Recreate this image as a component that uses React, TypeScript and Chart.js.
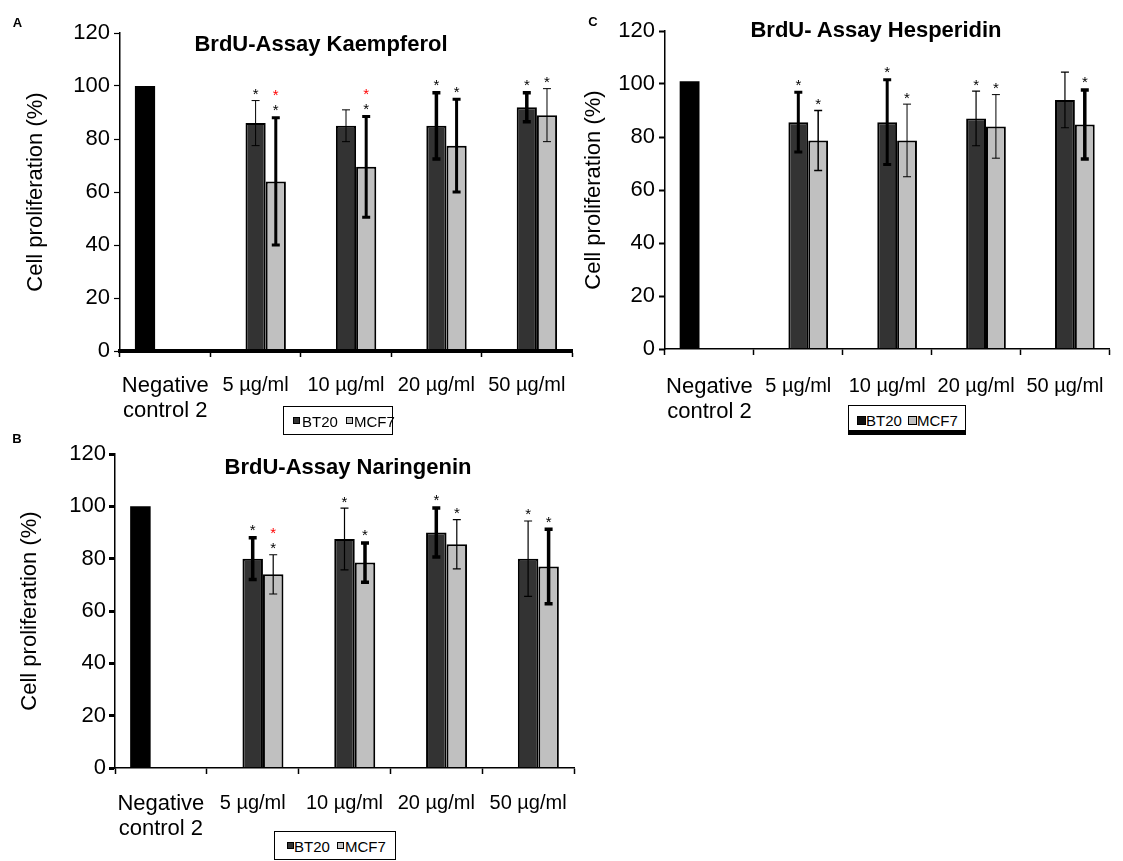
import React, { useEffect, useRef } from "react";
import { Chart, registerables } from "chart.js";

Chart.register(...registerables);

const FONT = '"Liberation Sans", Arial, Helvetica, sans-serif';
Chart.defaults.font.family = FONT;
Chart.defaults.color = "#000";

// ---------- shared ----------
const categories: (string | string[])[] = [["Negative", "control 2"], "5 µg/ml", "10 µg/ml", "20 µg/ml", "50 µg/ml"];
const yTickValues = [0, 20, 40, 60, 80, 100, 120];
const yTitle = "Cell proliferation (%)";
const seriesNames = ["Negative control", "BT20", "MCF7"];

// ---------- Panel A: Kaempferol ----------
const controlA = [100, null, null, null, null];
const bt20A = [null, 86, 85, 85, 92];
const bt20ErrA = [null, 8.5, 6, 12.5, 5.5];
const mcf7A = [null, 64, 69.5, 77.5, 89];
const mcf7ErrA = [null, 24, 19, 17.5, 10];
const bt20StarA = [false, true, false, true, true];
const mcf7StarA = [false, true, true, true, true];
const mcf7RedStarA = [false, true, true, false, false];

// ---------- Panel B: Naringenin ----------
const controlB = [100, null, null, null, null];
const bt20B = [null, 80, 87.5, 90, 80];
const bt20ErrB = [null, 8, 11.8, 9.4, 14.4];
const mcf7B = [null, 74, 78.5, 85.5, 77];
const mcf7ErrB = [null, 7.5, 7.5, 9.4, 14.2];
const bt20StarB = [false, true, true, true, true];
const mcf7StarB = [false, true, true, true, true];
const mcf7RedStarB = [false, true, false, false, false];

// ---------- Panel C: Hesperidin ----------
const controlC = [101, null, null, null, null];
const bt20C = [null, 85.6, 85.6, 87, 94];
const bt20ErrC = [null, 11.3, 16, 10.3, 10.5];
const mcf7C = [null, 78.7, 78.7, 84, 84.7];
const mcf7ErrC = [null, 11.3, 13.7, 12, 13];
const bt20StarC = [false, true, true, true, false];
const mcf7StarC = [false, true, true, true, true];
const mcf7RedStarC = [false, false, false, false, false];

// error bar stroke widths (style only)
const errWA = { bt20: [0, 1, 1, 3.5, 3.5], mcf7: [0, 3, 3, 3, 1] };
const errWB = { bt20: [0, 3.5, 1.2, 3.5, 1.2], mcf7: [0, 1.2, 3.5, 1.2, 3.5] };
const errWC = { bt20: [0, 3, 3, 1.2, 1.2], mcf7: [0, 1.5, 1, 1, 3.5] };

const errorBarPlugin = {
  id: "errorBars",
  afterDatasetsDraw(chart: any) {
    const ctx = chart.ctx;
    const y = chart.scales.y;
    chart.data.datasets.forEach((ds: any, di: number) => {
      if (!ds.errors) return;
      const meta = chart.getDatasetMeta(di);
      meta.data.forEach((bar: any, i: number) => {
        const v = ds.data[i];
        const e = ds.errors[i];
        if (v == null || e == null) return;
        const x = bar.x;
        const yTop = y.getPixelForValue(v + e);
        const yBot = y.getPixelForValue(v - e);
        const lw = (ds.errWidths && ds.errWidths[i]) || 1.2;
        ctx.save();
        ctx.strokeStyle = "#000";
        ctx.lineWidth = lw;
        ctx.beginPath();
        ctx.moveTo(x, yTop);
        ctx.lineTo(x, yBot);
        ctx.moveTo(x - 4, yTop);
        ctx.lineTo(x + 4, yTop);
        ctx.moveTo(x - 4, yBot);
        ctx.lineTo(x + 4, yBot);
        ctx.stroke();
        ctx.font = `15px ${FONT}`;
        ctx.textAlign = "center";
        ctx.textBaseline = "alphabetic";
        if (ds.stars && ds.stars[i]) {
          ctx.fillStyle = "#000";
          ctx.fillText("*", x, yTop - 1 - lw / 2);
        }
        if (ds.redStars && ds.redStars[i]) {
          ctx.fillStyle = "#ff0000";
          ctx.fillText("*", x, yTop - 16 - lw / 2);
        }
        ctx.restore();
      });
    });
  },
};

type PanelProps = {
  left: number;
  top: number;
  width: number;
  height: number;
  yAxisWidth: number;
  padRight: number;
  titlePad: number;
  yTickPad: number;
  xTickPad: number;
  xBorder: number;
  yTickWidth: number;
  control: (number | null)[];
  bt20: (number | null)[];
  bt20Err: (number | null)[];
  mcf7: (number | null)[];
  mcf7Err: (number | null)[];
  bt20Star: boolean[];
  mcf7Star: boolean[];
  mcf7RedStar: boolean[];
  errW: { bt20: number[]; mcf7: number[] };
};

function Panel(p: PanelProps) {
  const ref = useRef<HTMLCanvasElement | null>(null);
  useEffect(() => {
    if (!ref.current) return;
    const chart = new Chart(ref.current, {
      type: "bar",
      data: {
        labels: categories as any,
        datasets: [
          {
            label: seriesNames[0],
            data: p.control,
            backgroundColor: "#000000",
            borderColor: "#000000",
            borderWidth: 0,
          } as any,
          {
            label: seriesNames[1],
            data: p.bt20,
            backgroundColor: "#333333",
            borderColor: "#000000",
            borderWidth: 2,
            errors: p.bt20Err,
            stars: p.bt20Star,
            errWidths: p.errW.bt20,
          } as any,
          {
            label: seriesNames[2],
            data: p.mcf7,
            backgroundColor: "#c0c0c0",
            borderColor: "#000000",
            borderWidth: 2,
            errors: p.mcf7Err,
            stars: p.mcf7Star,
            redStars: p.mcf7RedStar,
            errWidths: p.errW.mcf7,
          } as any,
        ],
      },
      options: {
        responsive: false,
        maintainAspectRatio: false,
        animation: false,
        devicePixelRatio: 1,
        layout: { padding: { top: 20, right: p.padRight, bottom: 0, left: 0 } },
        datasets: { bar: { categoryPercentage: 0.67, barPercentage: 1 } },
        plugins: { legend: { display: false }, tooltip: { enabled: false }, title: { display: false } },
        scales: {
          x: {
            type: "category",
            grid: {
              drawOnChartArea: false,
              drawTicks: true,
              tickLength: 6,
              tickWidth: 1.5,
              tickColor: "#000",
              offset: true,
            },
            border: { display: true, color: "#000", width: p.xBorder, z: 1 },
            ticks: {
              color: "#000",
              padding: p.xTickPad,
              maxRotation: 0,
              minRotation: 0,
              autoSkip: false,
              font: (c: any) =>
                c.index === 0
                  ? { size: 22, lineHeight: "25px", family: FONT }
                  : { size: 20, lineHeight: "25px", family: FONT },
            },
            afterFit: (s: any) => {
              s.height = 75;
            },
          },
          y: {
            min: 0,
            max: 120,
            afterBuildTicks: (s: any) => {
              s.ticks = yTickValues.map((v) => ({ value: v }));
            },
            ticks: { color: "#000", padding: p.yTickPad, font: { size: 22, family: FONT } },
            grid: {
              drawOnChartArea: false,
              drawTicks: true,
              tickLength: 6,
              tickWidth: p.yTickWidth,
              tickColor: "#000",
            },
            border: { display: true, color: "#000", width: 1.5 },
            title: {
              display: true,
              text: yTitle,
              color: "#000",
              font: { size: 22, family: FONT, lineHeight: 1.2 },
              padding: { top: p.titlePad, bottom: 0 },
            },
            afterFit: (s: any) => {
              s.width = p.yAxisWidth;
            },
          },
        },
      },
      plugins: [errorBarPlugin],
    });
    return () => chart.destroy();
  }, []);
  return (
    <canvas
      ref={ref}
      width={p.width}
      height={p.height}
      style={{ position: "absolute", left: p.left, top: p.top, width: p.width, height: p.height }}
    />
  );
}

const abs = (left: number, top: number, extra: React.CSSProperties = {}): React.CSSProperties => ({
  position: "absolute",
  left,
  top,
  ...extra,
});

function Title({ x, y, text }: { x: number; y: number; text: string }) {
  return (
    <div
      style={abs(x, y, {
        transform: "translate(-50%, -50%)",
        fontWeight: "bold",
        fontSize: 22,
        lineHeight: "22px",
        whiteSpace: "nowrap",
        color: "#000",
      })}
    >
      {text}
    </div>
  );
}

function Letter({ x, y, text }: { x: number; y: number; text: string }) {
  return (
    <div
      style={abs(x, y, {
        transform: "translate(-50%, -50%)",
        fontWeight: "bold",
        fontSize: 13,
        lineHeight: "13px",
        color: "#000",
      })}
    >
      {text}
    </div>
  );
}

function Legend({
  left,
  top,
  width,
  height,
  shadow,
  m1,
  t1,
  m2,
  t2,
  msize,
  m1color,
}: {
  left: number;
  top: number;
  width: number;
  height: number;
  shadow?: boolean;
  m1: number;
  t1: number;
  m2: number;
  t2: number;
  msize: number;
  m1color: string;
}) {
  const cy = height / 2;
  return (
    <div
      style={abs(left, top, {
        width,
        height,
        border: "1px solid #000",
        borderBottom: shadow ? "5px solid #000" : "1px solid #000",
        boxSizing: "border-box",
        background: "#fff",
        fontSize: 15,
        color: "#000",
      })}
    >
      <div
        style={abs(m1, cy - msize / 2 - 1, {
          width: msize,
          height: msize,
          background: m1color,
          border: "1px solid #000",
          boxSizing: "border-box",
        })}
      />
      <div style={abs(t1, cy - 9, { lineHeight: "17px" })}>{seriesNames[1]}</div>
      <div
        style={abs(m2, cy - msize / 2 - 1, {
          width: msize,
          height: msize,
          background: "#c0c0c0",
          border: "1px solid #000",
          boxSizing: "border-box",
        })}
      />
      <div style={abs(t2, cy - 9, { lineHeight: "17px" })}>{seriesNames[2]}</div>
    </div>
  );
}

export default function App() {
  return (
    <div
      style={{
        position: "absolute",
        left: 0,
        top: 0,
        width: 1123,
        height: 861,
        background: "#fff",
        fontFamily: FONT,
        overflow: "hidden",
      }}
    >
      <Panel
        left={0}
        top={13}
        width={592}
        height={413}
        yAxisWidth={120}
        padRight={20}
        titlePad={23}
        yTickPad={4}
        xTickPad={16}
        xBorder={4}
        yTickWidth={1.2}
        control={controlA}
        bt20={bt20A}
        bt20Err={bt20ErrA}
        mcf7={mcf7A}
        mcf7Err={mcf7ErrA}
        bt20Star={bt20StarA}
        mcf7Star={mcf7StarA}
        mcf7RedStar={mcf7RedStarA}
        errW={errWA}
      />
      <Panel
        left={570}
        top={11}
        width={553}
        height={413}
        yAxisWidth={95}
        padRight={5}
        titlePad={11}
        yTickPad={4}
        xTickPad={19}
        xBorder={1.5}
        yTickWidth={2}
        control={controlC}
        bt20={bt20C}
        bt20Err={bt20ErrC}
        mcf7={mcf7C}
        mcf7Err={mcf7ErrC}
        bt20Star={bt20StarC}
        mcf7Star={mcf7StarC}
        mcf7RedStar={mcf7RedStarC}
        errW={errWC}
      />
      <Panel
        left={0}
        top={434}
        width={594}
        height={409}
        yAxisWidth={115}
        padRight={20}
        titlePad={17}
        yTickPad={3}
        xTickPad={17}
        xBorder={1.5}
        yTickWidth={3}
        control={controlB}
        bt20={bt20B}
        bt20Err={bt20ErrB}
        mcf7={mcf7B}
        mcf7Err={mcf7ErrB}
        bt20Star={bt20StarB}
        mcf7Star={mcf7StarB}
        mcf7RedStar={mcf7RedStarB}
        errW={errWB}
      />

      <Letter x={17.5} y={21.5} text="A" />
      <Letter x={593} y={21} text="C" />
      <Letter x={17} y={438} text="B" />

      <Title x={321} y={44} text="BrdU-Assay Kaempferol" />
      <Title x={876} y={30} text="BrdU- Assay Hesperidin" />
      <Title x={348} y={467} text="BrdU-Assay Naringenin" />

      <Legend left={283} top={406} width={110} height={29} m1={9} t1={18} m2={62} t2={70} msize={7} m1color="#333333" />
      <Legend left={848} top={405} width={118} height={30} shadow m1={8} t1={17} m2={59} t2={68} msize={9} m1color="#111111" />
      <Legend left={274} top={831} width={122} height={29} m1={12} t1={19} m2={62} t2={70} msize={7} m1color="#333333" />
    </div>
  );
}
